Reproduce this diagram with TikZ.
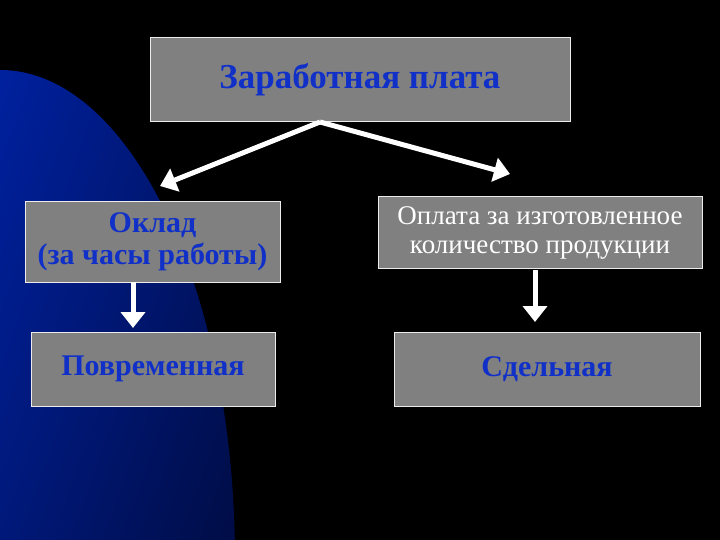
\documentclass[tikz,border=0pt]{standalone}
\usepackage{fontspec}
\setmainfont{Liberation Serif}
\usetikzlibrary{arrows.meta}
\definecolor{boxgray}{RGB}{128,128,128}
\definecolor{txtblue}{RGB}{16,48,200}
\definecolor{bblue}{RGB}{0,40,190}
\definecolor{dblue}{RGB}{0,8,50}
\begin{document}
\begin{tikzpicture}[x=1pt,y=-1pt,
  box/.style={draw=white!85!gray,line width=1pt,fill=boxgray,inner sep=0pt,align=center},
  bt/.style={font=\bfseries\fontsize{30}{32}\selectfont,text=txtblue,align=center},
  wt/.style={font=\fontsize{27}{29}\selectfont,text=white,align=center},
  arr/.style={white,line width=5pt,-{Triangle[length=16pt,width=24pt]}}]
\fill[black] (0,0) rectangle (720,540);
\begin{scope}
\clip (0,0) rectangle (720,540);
\shade[left color=bblue,right color=dblue,shading angle=70] (0,560) ellipse [x radius=235,y radius=490];
\end{scope}
\useasboundingbox (0,0) rectangle (720,540);
\node[box,minimum width=420,minimum height=84] (top) at (360,80) {};
\node[bt,font=\bfseries\fontsize{35}{38}\selectfont] at (top) {Заработная плата};
\node[box,minimum width=255,minimum height=80] (ok) at (152.5,242) {};
\node[bt] at (ok) {Оклад\\(за часы работы)};
\node[box,minimum width=324,minimum height=71] (op) at (540,232.5) {};
\node[wt] at (op) {Оплата за изготовленное\\количество продукции};
\node[box,minimum width=244,minimum height=74] (pov) at (153,369) {};
\node[bt] at (pov) {Повременная};
\node[box,minimum width=306,minimum height=74] (sd) at (547,369) {};
\node[bt] at (sd) {Сдельная};
\coordinate (ts) at (320,122);
\coordinate (le) at (160,186);
\coordinate (re) at (510,174);
\draw[arr] (ts) -- (le);
\draw[arr] (ts) -- (re);
\draw[arr] (133,282) -- (133,328);
\draw[arr] (535,270) -- (535,322);
\end{tikzpicture}
\end{document}
